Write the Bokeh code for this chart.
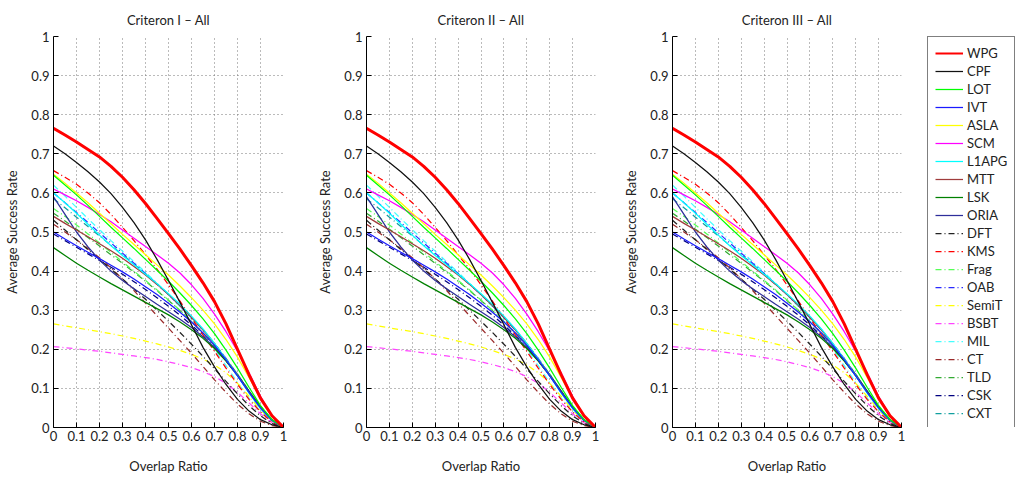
from bokeh.plotting import figure
from bokeh.layouts import row
from bokeh.models import FixedTicker, Legend, LegendItem, Range1d
from bokeh.embed import file_html
from bokeh.resources import INLINE

# ---------------- data ----------------
overlap = [0.0, 0.05, 0.1, 0.15, 0.2, 0.25, 0.3, 0.35, 0.4, 0.45, 0.5,
           0.55, 0.6, 0.65, 0.7, 0.75, 0.8, 0.85, 0.9, 0.95, 1.0]

tick_values = [0, 0.1, 0.2, 0.3, 0.4, 0.5, 0.6, 0.7, 0.8, 0.9, 1]
tick_labels = ["0", "0.1", "0.2", "0.3", "0.4", "0.5", "0.6", "0.7", "0.8", "0.9", "1"]

panel_titles = ["Criteron I \u2013 All", "Criteron II \u2013 All", "Criteron III \u2013 All"]
x_title = "Overlap Ratio"
y_title = "Average Success Rate"

trackers = ["WPG", "CPF", "LOT", "IVT", "ASLA", "SCM", "L1APG", "MTT", "LSK", "ORIA",
            "DFT", "KMS", "Frag", "OAB", "SemiT", "BSBT", "MIL", "CT", "TLD", "CSK", "CXT"]

WPG = [0.765, 0.748, 0.730, 0.711, 0.692, 0.668, 0.640, 0.608, 0.573, 0.535, 0.496,
       0.456, 0.414, 0.370, 0.322, 0.265, 0.200, 0.135, 0.075, 0.030, 0.0]
CPF = [0.720, 0.700, 0.678, 0.654, 0.628, 0.598, 0.563, 0.524, 0.480, 0.430, 0.376,
       0.320, 0.263, 0.205, 0.155, 0.110, 0.072, 0.042, 0.020, 0.007, 0.0]
LOT = [0.645, 0.620, 0.595, 0.568, 0.540, 0.512, 0.485, 0.458, 0.430, 0.402, 0.374,
       0.344, 0.312, 0.278, 0.240, 0.198, 0.152, 0.103, 0.056, 0.020, 0.0]
IVT = [0.500, 0.482, 0.465, 0.448, 0.432, 0.415, 0.398, 0.380, 0.360, 0.340, 0.318,
       0.295, 0.270, 0.242, 0.210, 0.173, 0.132, 0.090, 0.050, 0.018, 0.0]
ASLA = [0.648, 0.625, 0.600, 0.575, 0.548, 0.521, 0.494, 0.468, 0.442, 0.416, 0.390,
        0.362, 0.332, 0.300, 0.265, 0.225, 0.180, 0.128, 0.074, 0.028, 0.0]
SCM = [0.610, 0.595, 0.580, 0.563, 0.545, 0.526, 0.505, 0.484, 0.463, 0.442, 0.420,
       0.395, 0.365, 0.330, 0.290, 0.245, 0.195, 0.140, 0.080, 0.030, 0.0]
L1APG = [0.600, 0.575, 0.548, 0.520, 0.492, 0.465, 0.440, 0.416, 0.392, 0.368, 0.342,
         0.315, 0.285, 0.252, 0.215, 0.175, 0.132, 0.088, 0.048, 0.018, 0.0]
MTT = [0.540, 0.522, 0.505, 0.488, 0.470, 0.452, 0.433, 0.412, 0.390, 0.366, 0.340,
       0.312, 0.282, 0.250, 0.214, 0.175, 0.133, 0.090, 0.050, 0.018, 0.0]
LSK = [0.460, 0.440, 0.420, 0.402, 0.385, 0.368, 0.352, 0.336, 0.320, 0.304, 0.288,
       0.270, 0.250, 0.228, 0.202, 0.170, 0.133, 0.092, 0.052, 0.020, 0.0]
ORIA = [0.590, 0.545, 0.500, 0.462, 0.428, 0.400, 0.376, 0.355, 0.335, 0.315, 0.296,
        0.277, 0.256, 0.232, 0.205, 0.172, 0.135, 0.093, 0.052, 0.020, 0.0]
DFT = [0.530, 0.505, 0.480, 0.455, 0.430, 0.405, 0.380, 0.354, 0.328, 0.300, 0.272,
       0.243, 0.213, 0.182, 0.150, 0.118, 0.086, 0.056, 0.030, 0.010, 0.0]
KMS = [0.657, 0.640, 0.622, 0.600, 0.575, 0.545, 0.512, 0.478, 0.442, 0.405, 0.365,
       0.323, 0.280, 0.237, 0.195, 0.152, 0.110, 0.072, 0.040, 0.014, 0.0]
Frag = [0.560, 0.540, 0.518, 0.495, 0.472, 0.448, 0.424, 0.400, 0.376, 0.352, 0.326,
        0.300, 0.272, 0.242, 0.210, 0.175, 0.137, 0.095, 0.055, 0.020, 0.0]
OAB = [0.600, 0.575, 0.550, 0.524, 0.498, 0.472, 0.446, 0.420, 0.394, 0.367, 0.340,
       0.311, 0.281, 0.249, 0.214, 0.176, 0.135, 0.092, 0.052, 0.019, 0.0]
SemiT = [0.265, 0.260, 0.255, 0.250, 0.245, 0.240, 0.234, 0.228, 0.221, 0.214, 0.206,
         0.197, 0.187, 0.175, 0.160, 0.140, 0.113, 0.080, 0.045, 0.016, 0.0]
BSBT = [0.207, 0.204, 0.201, 0.198, 0.195, 0.191, 0.187, 0.183, 0.179, 0.174, 0.168,
        0.161, 0.153, 0.143, 0.130, 0.113, 0.090, 0.063, 0.035, 0.012, 0.0]
MIL = [0.620, 0.592, 0.563, 0.534, 0.506, 0.478, 0.451, 0.424, 0.397, 0.369, 0.340,
       0.309, 0.276, 0.240, 0.200, 0.158, 0.115, 0.075, 0.040, 0.013, 0.0]
CT = [0.520, 0.500, 0.480, 0.458, 0.434, 0.408, 0.380, 0.350, 0.318, 0.286, 0.254,
      0.222, 0.190, 0.156, 0.122, 0.090, 0.060, 0.035, 0.016, 0.005, 0.0]
TLD = [0.548, 0.528, 0.507, 0.486, 0.464, 0.442, 0.420, 0.397, 0.374, 0.350, 0.325,
       0.299, 0.271, 0.241, 0.208, 0.172, 0.133, 0.092, 0.052, 0.019, 0.0]
CSK = [0.495, 0.478, 0.461, 0.444, 0.427, 0.410, 0.392, 0.373, 0.353, 0.332, 0.310,
       0.287, 0.262, 0.235, 0.205, 0.171, 0.133, 0.092, 0.052, 0.019, 0.0]
CXT = [0.585, 0.562, 0.538, 0.514, 0.490, 0.466, 0.442, 0.418, 0.393, 0.367, 0.340,
       0.312, 0.282, 0.250, 0.215, 0.177, 0.136, 0.093, 0.053, 0.019, 0.0]

series = [WPG, CPF, LOT, IVT, ASLA, SCM, L1APG, MTT, LSK, ORIA,
          DFT, KMS, Frag, OAB, SemiT, BSBT, MIL, CT, TLD, CSK, CXT]

colors = ["#ff0000", "#111111", "#00ff00", "#1a1aff", "#ffff00", "#ff00ff", "#00ffff",
          "#a03c3c", "#008000", "#2e2e9a",
          "#222222", "#ff0000", "#55ff55", "#2a2aff", "#ffff00", "#ff44ff", "#44ffff",
          "#9a2a2a", "#33aa33", "#000080", "#119f9f"]
dashes = ["solid"] * 10 + ["6 3 1 3"] * 11
widths = [3] + [1.25] * 20

FONT = "Lato"

# (left border, plot width, right border) per panel
borders = [(53, 230, 10), (73, 229, 10), (67, 229, 26)]
HEIGHT = 476
TOP = 31
PLOT_H = 396
BOTTOM = HEIGHT - TOP - PLOT_H

figs = []
for (title, (bl, pw, br)) in zip(panel_titles, borders):
    p = figure(width=bl + pw + br, height=HEIGHT,
               x_range=Range1d(0, 1), y_range=Range1d(0, 1),
               output_backend="svg", toolbar_location=None,
               min_border_left=bl, min_border_right=br,
               min_border_top=TOP, min_border_bottom=BOTTOM,
               title=title)
    p.title.align = "center"
    p.title.text_font = FONT
    p.title.text_font_size = "13px"
    p.title.text_font_style = "normal"
    p.title.text_color = "#222222"
    p.title.standoff = 18
    p.outline_line_color = None
    p.background_fill_color = "white"
    p.border_fill_color = "white"

    for ax in (p.xaxis[0], p.yaxis[0]):
        ax.ticker = FixedTicker(ticks=tick_values)
        ax.major_label_overrides = {v: s for v, s in zip(tick_values, tick_labels)}
        ax.major_tick_in = 5
        ax.major_tick_out = 0
        ax.minor_tick_line_color = None
        ax.axis_line_color = "black"
        ax.major_tick_line_color = "black"
        ax.major_label_text_font = FONT
        ax.major_label_text_font_size = "13px"
        ax.major_label_text_color = "#222222"
        ax.axis_label_text_font = FONT
        ax.axis_label_text_font_size = "13px"
        ax.axis_label_text_font_style = "normal"
        ax.axis_label_text_color = "#222222"
    p.xaxis.axis_label = x_title
    p.yaxis.axis_label = y_title
    p.xaxis.major_label_standoff = 3
    p.xaxis.axis_label_standoff = 14
    p.yaxis.major_label_standoff = 4
    p.yaxis.axis_label_standoff = 8

    for g in (p.xgrid[0], p.ygrid[0]):
        g.ticker = FixedTicker(ticks=tick_values)
        g.grid_line_color = "#777777"
        g.grid_line_dash = "1 3"
        g.grid_line_width = 1

    # draw back-to-front so WPG ends on top
    for name, ys, c, d, w in reversed(list(zip(trackers, series, colors, dashes, widths))):
        p.line(overlap, ys, line_color=c, line_dash=d, line_width=w)
    figs.append(p)

# legend panel: same curves, drawn outside the visible range, only the legend shows
LEG_W = 90
lg = figure(width=LEG_W, height=HEIGHT, x_range=Range1d(5, 6), y_range=Range1d(5, 6),
            output_backend="svg", toolbar_location=None,
            x_axis_type=None, y_axis_type=None,
            min_border_left=0, min_border_right=0,
            min_border_top=TOP, min_border_bottom=BOTTOM)
lg.outline_line_color = None
lg.grid.visible = False
lg.background_fill_color = "white"
lg.border_fill_color = "white"
items = []
for name, ys, c, d, w in zip(trackers, series, colors, dashes, widths):
    r = lg.line(overlap, ys, line_color=c, line_dash=d, line_width=min(w, 2))
    items.append(LegendItem(label=name, renderers=[r]))
legend = Legend(items=items)
legend.location = "top_left"
legend.margin = 0
legend.padding = 7
legend.spacing = 0
legend.glyph_width = 28
legend.glyph_height = 18
legend.label_height = 18
legend.label_standoff = 4
legend.label_text_font = FONT
legend.label_text_font_size = "13px"
legend.label_text_color = "#222222"
legend.border_line_color = "black"
legend.border_line_width = 1.5
legend.background_fill_alpha = 1
lg.add_layout(legend, "center")
figs.append(lg)

layout = row(*figs)
open("out.html", "w").write(file_html(layout, INLINE))
